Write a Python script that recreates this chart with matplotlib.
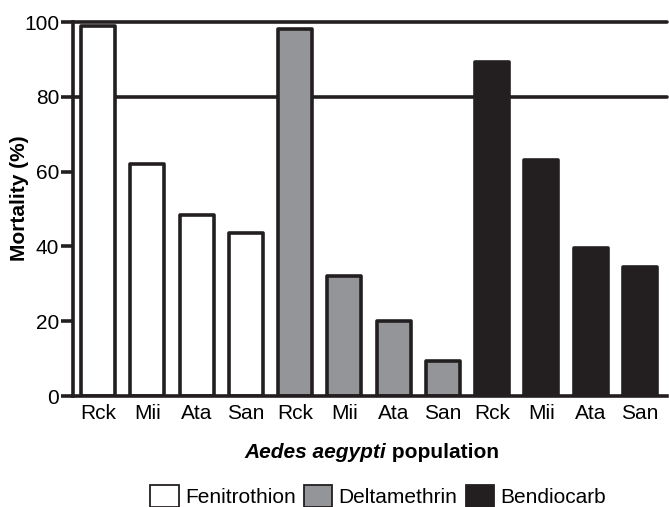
import matplotlib
matplotlib.use("Agg")
import matplotlib.pyplot as plt
from matplotlib.patches import Patch

plt.rcParams['font.family'] = ['Liberation Sans', 'DejaVu Sans']

populations = ["Rck", "Mii", "Ata", "San"]
insecticides = ["Fenitrothion", "Deltamethrin", "Bendiocarb"]
fenitrothion = [99, 62, 48.5, 43.5]
deltamethrin = [98, 32, 20, 9.3]
bendiocarb = [89.3, 63, 39.5, 34.5]
series = [fenitrothion, deltamethrin, bendiocarb]
colors = ["#ffffff", "#939598", "#231f20"]
ref_lines = [80, 100]
yticks = [0, 20, 40, 60, 80, 100]

W, H = 669, 507
fig = plt.figure(figsize=(W/100, H/100), dpi=100)
ax = fig.add_axes([73/W, 1-396/H, (667-73)/W, (396-22)/H])

ink = "#231f20"
for r in ref_lines:
    ax.axhline(r, color=ink, lw=2.6, zorder=1, clip_on=False, solid_capstyle='round')

labels = []
pos = 0
for vals, col in zip(series, colors):
    xs = list(range(pos, pos + len(vals)))
    ax.bar(xs, vals, width=0.69, color=col, edgecolor=ink, linewidth=2.6,
           zorder=2, joinstyle='round')
    labels += populations
    pos += len(vals)

ax.set_xlim(-0.51, 11.55)
ax.set_ylim(0, 100)
ax.set_xticks(range(len(labels)))
ax.set_xticklabels(labels, fontsize=15)
ax.tick_params(axis='x', length=0, pad=6)
ax.set_yticks(yticks)
ax.set_yticklabels([str(v) for v in yticks], fontsize=15)
ax.tick_params(axis='y', length=9, width=2.6, color=ink, pad=1)

for s in ["top", "right"]:
    ax.spines[s].set_visible(False)
for s in ["left", "bottom"]:
    ax.spines[s].set_linewidth(2.6)
    ax.spines[s].set_color(ink)

ax.set_ylabel("Mortality (%)", fontsize=15, fontweight='bold')
ax.yaxis.set_label_coords((29 - 73) / (667 - 73), 0.53)

# x-axis label with an italic species name followed by upright text
renderer = fig.canvas.get_renderer()
t1 = fig.text(0, 0, "Aedes aegypti", fontsize=15, fontweight='bold', fontstyle='italic')
t2 = fig.text(0, 0, " population", fontsize=15, fontweight='bold')
w1 = t1.get_window_extent(renderer).width
w2 = t2.get_window_extent(renderer).width
cx = 372
y_lab = 1 - 458/H
x0 = cx - (w1 + w2) / 2
t1.set_position((x0 / W, y_lab))
t2.set_position(((x0 + w1) / W, y_lab))

handles = [Patch(facecolor=c, edgecolor=ink, linewidth=1.3) for c in colors]
fig.legend(handles, insecticides, loc='center', bbox_to_anchor=(378/W, 1 - 496/H),
           ncol=3, frameon=False, fontsize=15, handlelength=1.35, handleheight=1.2,
           handletextpad=0.3, columnspacing=0.4, borderaxespad=0)

fig.savefig("out.png", dpi=100)
